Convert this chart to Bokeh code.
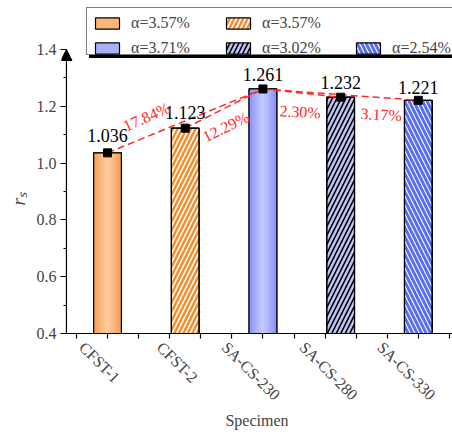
import math
import numpy as np
from bokeh.plotting import figure
from bokeh.models import (ColumnDataSource, LabelSet, Legend, LegendItem, FixedTicker, Title,
                          Arrow, NormalHead, Range1d, PrintfTickFormatter, LinearAxis)
from bokeh.core.properties import value
from bokeh.embed import file_html
from bokeh.resources import INLINE

# ---------------- data ----------------
specimens = ["CFST-1", "CFST-2", "SA-CS-230", "SA-CS-280", "SA-CS-330"]
r_s = [1.036, 1.123, 1.261, 1.232, 1.221]
alpha_labels = ["α=3.57%", "α=3.57%", "α=3.71%", "α=3.02%", "α=2.54%"]
pair_from = [0, 1, 2, 2]
pair_to = [2, 2, 3, 4]
pct_labels = ["17.84%", "12.29%", "2.30%", "3.17%"]
y_ticks = [0.4, 0.6, 0.8, 1.0, 1.2, 1.4]
y_minor = [0.5, 0.7, 0.9, 1.1, 1.3]

# ---------------- styles ----------------
FONT = "Liberation Serif"
bar_styles = [
    dict(kind="grad", edge="#F6974A", center="#FFCFA2", legend_fill="#FDB57A"),
    dict(kind="hatch", fill="white", hatch="/", hcolor="#F48E2C", hweight=2.5),
    dict(kind="grad", edge="#8189F8", center="#C6CCFF", legend_fill="#A9B1FC"),
    dict(kind="hatch", fill="#BEC5F6", hatch="/", hcolor="black", hweight=1.6),
    dict(kind="hatch", fill="white", hatch="\\", hcolor="#5A6EF0", hweight=3.0),
]
BAR_W = 0.357
FB = 333          # screen position of the frame bottom (after axis layout)
X0, X_AX, X1 = 0.4076, 0.4713, 5.4395
Y0, Y_TOP, Y1 = 0.4, 1.4, 1.5725

p = figure(width=452, height=432, output_backend="svg", toolbar_location=None,
           x_range=Range1d(X0, X1), y_range=Range1d(Y0, Y1),
           min_border_left=57, min_border_right=0, min_border_top=0, min_border_bottom=94)
p.grid.visible = False
p.outline_line_color = None
p.background_fill_color = "white"

xs = [i + 1 for i in range(len(specimens))]

def hex2rgb(h):
    h = h.lstrip("#")
    return tuple(int(h[k:k + 2], 16) for k in (0, 2, 4))

def mix(c1, c2, t):
    a, b = hex2rgb(c1), hex2rgb(c2)
    return "#%02x%02x%02x" % tuple(int(round(a[k] + (b[k] - a[k]) * t)) for k in range(3))

base_renderers = []
for i, st in enumerate(bar_styles):
    src = ColumnDataSource(dict(x=[xs[i]], top=[r_s[i]]))
    if st["kind"] == "grad":
        r = p.vbar(x="x", top="top", bottom=0, width=BAR_W, source=src,
                   fill_color=st["legend_fill"], line_color="black", line_width=1.2)
        n = 18
        sx, tops, cols = [], [], []
        for k in range(n):
            u = (k + 0.5) / n * 2 - 1
            t = (1 - abs(u)) ** 0.8
            sx.append(xs[i] - BAR_W / 2 + (k + 0.5) * BAR_W / n)
            tops.append(r_s[i])
            cols.append(mix(st["edge"], st["center"], t))
        p.vbar(x=sx, top=tops, bottom=0, width=BAR_W / n * 1.05,
               fill_color=cols, line_color=cols, line_width=0.3)
    else:
        r = p.vbar(x="x", top="top", bottom=0, width=BAR_W, source=src,
                   fill_color=st["fill"], hatch_pattern=st["hatch"], hatch_color=st["hcolor"],
                   hatch_weight=st["hweight"], hatch_scale=9,
                   line_color="black", line_width=1.2)
    base_renderers.append(r)

# outlines on top
p.vbar(x=xs, top=r_s, bottom=0, width=BAR_W, fill_color=None, line_color="black", line_width=1.2)

# dashed comparison lines
p.segment(x0=[xs[a] for a in pair_from], y0=[r_s[a] for a in pair_from],
          x1=[xs[b] for b in pair_to], y1=[r_s[b] for b in pair_to],
          line_color="#FF2A2A", line_width=1.5, line_dash="7 4")

# points
p.scatter(x=xs, y=r_s, marker="square", size=8, color="black")

# value labels
val_offs = [17, 16, 14, 15, 13]
vsrc = ColumnDataSource(dict(x=xs, y=r_s, t=["%.3f" % v for v in r_s], o=val_offs))
p.add_layout(LabelSet(x="x", y="y", text="t", source=vsrc, text_align="center",
                      text_baseline="middle", y_offset="o", text_font=value(FONT),
                      text_font_size="18px", text_color="black"))

# percentage labels along the dashed lines
fracs = [0.2516, 0.522, 0.478, 0.761]
offs = [20, -19, -19, -17]
angs = [24, 26, -3, -3]
px, py, pa = [], [], []
for j in range(len(pct_labels)):
    a, b = pair_from[j], pair_to[j]
    px.append(xs[a] + fracs[j] * (xs[b] - xs[a]))
    py.append(r_s[a] + fracs[j] * (r_s[b] - r_s[a]))
    pa.append(math.radians(angs[j]))
psrc = ColumnDataSource(dict(x=px, y=py, t=pct_labels, a=pa, o=offs))
p.add_layout(LabelSet(x="x", y="y", text="t", angle="a", y_offset="o", source=psrc,
                      text_align="center", text_baseline="middle", text_font=value(FONT),
                      text_font_size="16px", text_color="#FF2A2A"))

# y axis: ticks and labels at the frame edge, axis line drawn by the arrow
yax = p.yaxis[0]
yax.bounds = (Y0, Y_TOP)
yax.ticker = FixedTicker(ticks=y_ticks, minor_ticks=y_minor)
yax.formatter = PrintfTickFormatter(format="%.1f")
yax.axis_line_color = None
yax.major_tick_out = 1
yax.major_tick_in = 5
yax.minor_tick_out = -2
yax.minor_tick_in = 5
yax.major_tick_line_width = 1.2
yax.minor_tick_line_width = 1.2
yax.major_label_text_font = FONT
yax.major_label_text_font_size = "16px"
yax.major_label_standoff = 4

# y title r_S (placed as a side title so it can sit at the right height)
p.add_layout(Title(text="rₛ", align="left", offset=FB - 205, standoff=10,
                   text_font=FONT, text_font_size="19px", text_font_style="italic"), "left")

p.add_layout(Arrow(end=NormalHead(size=11, fill_color="black", line_color="black"),
                   x_start=X_AX, y_start=Y0, x_end=X_AX, y_end=Y_TOP, line_width=1.2))

# x axis: ticks only
xtk = [round(v, 2) for v in np.arange(0.6, 5.45, 0.4)]
xax = p.xaxis[0]
xax.ticker = FixedTicker(ticks=xtk)
xax.major_label_overrides = {v: "" for v in xtk}
xax.major_tick_out = 5
xax.major_tick_in = 0
xax.minor_tick_line_color = None
xax.axis_line_width = 1.2
xax.major_tick_line_width = 1.2
xax.major_label_text_font_size = "0px"
xax.major_label_standoff = 0

# x axis: rotated category labels (anchored so that each label sits under its bar) and title
PX_PER_X = 78.5
lab_pos = [x - 4.3 * len(s) / PX_PER_X for x, s in zip(xs, specimens)]
cax = LinearAxis(ticker=FixedTicker(ticks=lab_pos),
                 major_label_overrides={x: s for x, s in zip(lab_pos, specimens)})
cax.axis_line_color = None
cax.major_tick_line_color = None
cax.minor_tick_line_color = None
cax.major_label_orientation = -math.pi / 4
cax.major_label_text_font = FONT
cax.major_label_text_font_size = "16px"
cax.major_label_standoff = 0
cax.axis_label = "Specimen"
cax.axis_label_text_font = FONT
cax.axis_label_text_font_size = "16px"
cax.axis_label_text_font_style = "normal"
cax.axis_label_standoff = 0
p.add_layout(cax, "below")

# legend: frame box + shadow, then three columns of entries
dummy = p.vbar(x=[xs[0]], top=[r_s[0]], width=0.0, fill_alpha=0, line_alpha=0)
BOX_W, BOX_H = 365, 46
box_common = dict(items=[LegendItem(label=" ", renderers=[dummy])], glyph_width=BOX_W,
                  glyph_height=BOX_H, label_standoff=0, label_width=0, label_height=0,
                  padding=0, margin=0, label_text_font_size="2px",
                  border_line_color="black", border_line_width=1, background_fill_alpha=1)
p.add_layout(Legend(location=(28, FB - 58), background_fill_color="black", **box_common))
p.add_layout(Legend(location=(25, FB - 55), background_fill_color="white", **box_common))

columns = [[0, 2], [1, 3], [None, 4]]
col_x = [31, 162, 292]
for cx, col in zip(col_x, columns):
    items = []
    for o in col:
        if o is None:
            items.append(LegendItem(label=" ", renderers=[dummy]))
        else:
            items.append(LegendItem(label=alpha_labels[o], renderers=[base_renderers[o]]))
    p.add_layout(Legend(items=items, location=(cx, FB - 57), orientation="vertical",
                        glyph_width=30, glyph_height=14, label_height=18, label_standoff=9,
                        spacing=7, padding=0, margin=0, border_line_color=None,
                        background_fill_alpha=0, label_text_font=FONT,
                        label_text_font_size="16px"))

open("out.html", "w").write(file_html(p, INLINE))
